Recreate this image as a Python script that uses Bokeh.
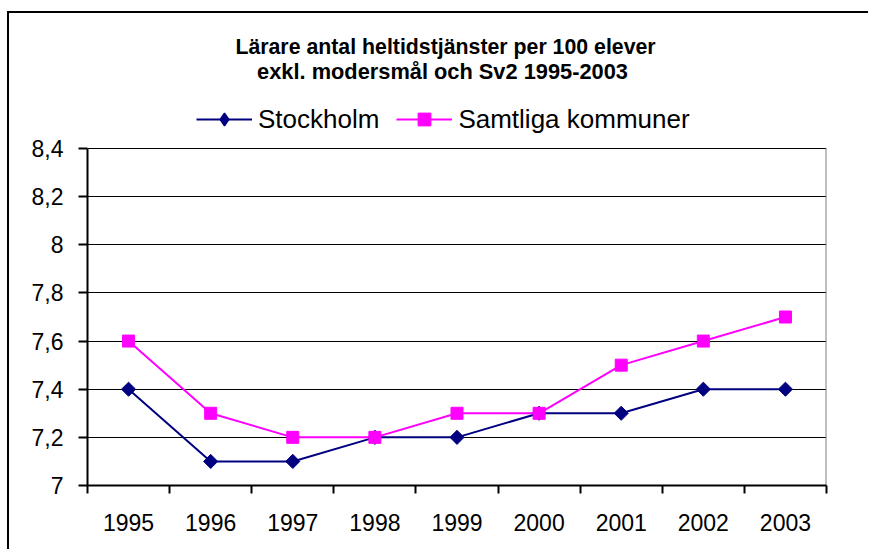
from bokeh.plotting import figure
from bokeh.models import FixedTicker, Legend, LegendItem, Label, Range1d
from bokeh.embed import file_html
from bokeh.resources import INLINE
from math import pi

years = ["1995", "1996", "1997", "1998", "1999", "2000", "2001", "2002", "2003"]
stockholm = [7.4, 7.1, 7.1, 7.2, 7.2, 7.3, 7.3, 7.4, 7.4]
samtliga = [7.6, 7.3, 7.2, 7.2, 7.3, 7.3, 7.5, 7.6, 7.7]
y_ticks = [7.0, 7.2, 7.4, 7.6, 7.8, 8.0, 8.2, 8.4]
y_tick_labels = ["7", "7,2", "7,4", "7,6", "7,8", "8", "8,2", "8,4"]
series_names = ["Stockholm", "Samtliga kommuner"]
title_lines = ["Lärare antal heltidstjänster per 100 elever",
               "exkl. modersmål och Sv2 1995-2003"]

FONT = "Liberation Sans"
NAVY = "#000080"
MAGENTA = "#FF00FF"

# layout (canvas pixels)
W, H = 861, 538
FRAME_L, FRAME_R, FRAME_B = 78, 817, 472
AXIS_TOP_PX = 135          # where the value axis ends (8,4)
px_per_unit = (FRAME_B - AXIS_TOP_PX) / (y_ticks[-1] - y_ticks[0])
y_top = y_ticks[-1] + AXIS_TOP_PX / px_per_unit   # frame reaches canvas top

xs = [i + 0.5 for i in range(len(years))]

p = figure(width=W, height=H, x_range=Range1d(0, len(years)),
           y_range=Range1d(y_ticks[0], y_top), title=None,
           output_backend="svg", toolbar_location=None,
           min_border_left=FRAME_L, min_border_right=W - FRAME_R,
           min_border_top=0, min_border_bottom=H - FRAME_B)
p.margin = (11, 0, 0, 7)
p.styles = {"border-top": "2px solid black", "border-left": "2px solid black"}
p.background_fill_color = "white"
p.border_fill_color = "white"
p.outline_line_color = None

# grid
p.xgrid.grid_line_color = None
p.ygrid.ticker = FixedTicker(ticks=y_ticks)
p.ygrid.grid_line_color = "black"
p.ygrid.grid_line_width = 1

# right border of the plot area
p.segment(x0=[len(years)], y0=[y_ticks[0]], x1=[len(years)], y1=[y_ticks[-1]],
          line_color="#808080", line_width=2)

# y axis
ya = p.yaxis[0]
ya.bounds = (y_ticks[0], y_ticks[-1])
ya.ticker = FixedTicker(ticks=y_ticks)
ya.major_label_overrides = {t: l for t, l in zip(y_ticks, y_tick_labels)}
ya.major_label_text_font = FONT
ya.major_label_text_font_size = "23px"
ya.major_label_text_color = "black"
ya.major_tick_out = 9
ya.major_tick_in = 0
ya.minor_tick_out = 0
ya.minor_tick_in = 0
ya.major_tick_line_color = "black"
ya.major_tick_line_width = 2
ya.axis_line_color = "black"
ya.axis_line_width = 2
ya.major_label_standoff = 15

# x axis: labels at centers, ticks (minor) at boundaries
xa = p.xaxis[0]
xa.ticker = FixedTicker(ticks=xs, minor_ticks=list(range(len(years) + 1)))
xa.major_label_overrides = {x: y for x, y in zip(xs, years)}
xa.major_label_text_font = FONT
xa.major_label_text_font_size = "23px"
xa.major_label_text_color = "black"
xa.major_tick_out = 0
xa.major_tick_in = 0
xa.minor_tick_out = 8
xa.minor_tick_in = 0
xa.minor_tick_line_color = "black"
xa.minor_tick_line_width = 2
xa.axis_line_color = "black"
xa.axis_line_width = 2
xa.major_label_standoff = 20

l1 = p.line(xs, stockholm, line_color=NAVY, line_width=2)
m1 = p.scatter(xs, stockholm, marker="square", size=10, angle=pi / 4,
               fill_color=NAVY, line_color=NAVY)
l2 = p.line(xs, samtliga, line_color=MAGENTA, line_width=2)
m2 = p.scatter(xs, samtliga, marker="square", size=12,
               fill_color=MAGENTA, line_color=MAGENTA, line_width=1)
# diamond shape used for the legend swatch only (legend ignores marker angle)
m1_key = p.scatter(xs, stockholm, marker="diamond", size=14,
                   fill_color=NAVY, line_color=NAVY, line_width=1.5,
                   visible=False)

legend = Legend(items=[LegendItem(label=series_names[0], renderers=[l1, m1_key]),
                       LegendItem(label=series_names[1], renderers=[l2, m2])],
                orientation="horizontal", location=(109, 350),
                glyph_width=56, glyph_height=32, label_standoff=6, spacing=17,
                padding=0, margin=0, border_line_alpha=0, background_fill_alpha=0,
                inactive_fill_alpha=0,
                label_text_font=FONT, label_text_font_size="26px",
                label_text_color="black")
p.add_layout(legend)

def y_at(px):
    return y_ticks[0] + (FRAME_B - px) / px_per_unit

def x_at(px):
    return (px - FRAME_L) / ((FRAME_R - FRAME_L) / len(years))

p.add_layout(Label(x=x_at(436), y=y_at(33), text=title_lines[0],
                   text_align="center", text_baseline="middle",
                   text_font=FONT, text_font_size="21.3px", text_font_style="bold",
                   text_color="black"))
p.add_layout(Label(x=x_at(433), y=y_at(57.5), text=title_lines[1],
                   text_align="center", text_baseline="middle",
                   text_font=FONT, text_font_size="21.8px", text_font_style="bold",
                   text_color="black"))

open("out.html", "w").write(file_html(p, INLINE))
